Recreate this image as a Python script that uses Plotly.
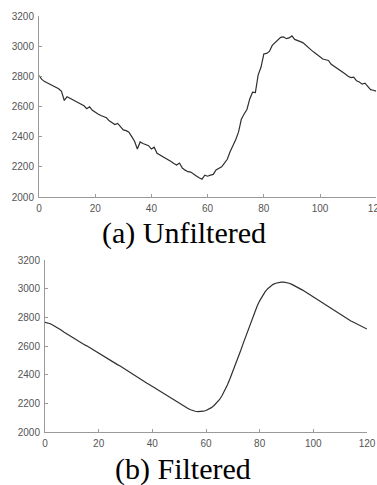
import plotly.graph_objects as go

sample_index = list(range(0, 121))

unfiltered = [
    2805, 2780, 2765, 2755, 2745, 2738, 2728, 2718, 2700, 2640,
    2665, 2655, 2645, 2640, 2628, 2615, 2605, 2585, 2598, 2575,
    2560, 2550, 2540, 2530, 2525, 2505, 2495, 2480, 2488, 2465,
    2445, 2440, 2430, 2400, 2370, 2318, 2365, 2355, 2345, 2340,
    2318, 2330, 2290, 2280, 2268, 2255, 2245, 2235, 2222, 2212,
    2225, 2192, 2178, 2168, 2165, 2150, 2140, 2128, 2118, 2145,
    2138, 2145, 2150, 2180, 2188, 2200, 2225, 2250, 2300, 2335,
    2380, 2430, 2515, 2550, 2580, 2650, 2695, 2692, 2810, 2860,
    2948, 2952, 2965, 3005, 3025, 3045, 3058, 3062, 3050, 3055,
    3068, 3045, 3040, 3030, 3022, 3005, 2985, 2972, 2958, 2945,
    2928, 2915, 2910, 2905, 2880, 2868, 2855, 2842, 2828, 2815,
    2800, 2792, 2795, 2770, 2762, 2748, 2755, 2732, 2712, 2708,
    2702,
]

filtered = [
    2765, 2762, 2755, 2745, 2735, 2722, 2712, 2698, 2686, 2672,
    2660, 2648, 2637, 2627, 2617, 2606, 2597, 2585, 2575, 2565,
    2553, 2541, 2529, 2517, 2505, 2493, 2481, 2470, 2460, 2448,
    2434, 2421, 2408, 2395, 2383, 2373, 2362, 2352, 2340, 2330,
    2318, 2308, 2296, 2284, 2272, 2260, 2248, 2234, 2222, 2210,
    2200, 2190, 2178, 2167, 2157, 2150, 2145, 2142, 2142, 2145,
    2150, 2158, 2170, 2185, 2202, 2225, 2255, 2290, 2330, 2375,
    2422, 2472, 2522, 2572, 2625, 2678, 2730, 2780, 2830, 2875,
    2915, 2950, 2978, 3000, 3017, 3030, 3038, 3043, 3046, 3046,
    3044, 3038, 3030, 3021, 3011, 3002, 2990, 2978, 2966, 2954,
    2941, 2929, 2917, 2905, 2892, 2880, 2868, 2855, 2843, 2831,
    2819, 2807, 2796, 2786, 2775, 2766, 2756, 2747, 2738, 2730,
    2718,
]

x_ticks = [0, 20, 40, 60, 80, 100, 120]
y_ticks = [2000, 2200, 2400, 2600, 2800, 3000, 3200]
captions = ["(a) Unfiltered", "(b) Filtered"]

W, H = 377, 485
line_color = "#2f2f2f"
axis_color = "#9a9a9a"
tick_font = dict(family="Liberation Sans", size=10, color="#555555")
caption_font = dict(family="Liberation Serif", size=30, color="#000000")

fig = go.Figure()
fig.add_trace(go.Scatter(x=sample_index, y=unfiltered, mode="lines",
                         line=dict(color=line_color, width=1.2),
                         xaxis="x", yaxis="y", showlegend=False))
fig.add_trace(go.Scatter(x=sample_index, y=filtered, mode="lines",
                         line=dict(color=line_color, width=1.2),
                         xaxis="x2", yaxis="y2", showlegend=False))

def xax(domain, anchor):
    return dict(domain=domain, anchor=anchor, range=[0, 120], tickvals=x_ticks,
                showgrid=False, zeroline=False, showline=True, linecolor=axis_color,
                linewidth=1, ticks="inside", ticklen=3, tickcolor=axis_color,
                tickfont=tick_font, ticklabelstandoff=2, automargin=False,
                ticklabeloverflow="allow")

def yax(domain, anchor):
    return dict(domain=domain, anchor=anchor, range=[2000, 3200], tickvals=y_ticks,
                showgrid=False, zeroline=False, showline=True, linecolor=axis_color,
                linewidth=1, ticks="inside", ticklen=3, tickcolor=axis_color,
                tickfont=tick_font, ticklabelstandoff=2, automargin=False,
                ticklabeloverflow="allow")

fig.update_layout(
    width=W, height=H,
    margin=dict(l=0, r=0, t=0, b=0),
    paper_bgcolor="white", plot_bgcolor="white",
    xaxis=xax([39 / W, 376.2 / W], "y"),
    yaxis=yax([(H - 197) / H, (H - 16) / H], "x"),
    xaxis2=xax([45 / W, 367 / W], "y2"),
    yaxis2=yax([(H - 432) / H, (H - 260) / H], "x2"),
    annotations=[
        dict(text=captions[0], x=184 / W, y=(H - 233) / H, xref="paper", yref="paper",
             xanchor="center", yanchor="middle", showarrow=False, font=caption_font),
        dict(text=captions[1], x=182.5 / W, y=(H - 469) / H, xref="paper", yref="paper",
             xanchor="center", yanchor="middle", showarrow=False, font=caption_font),
    ],
)

fig.write_html(
    "out.html",
    config={"displayModeBar": False},
    post_script="document.body.style.margin='0';document.body.style.overflow='hidden';",
)
